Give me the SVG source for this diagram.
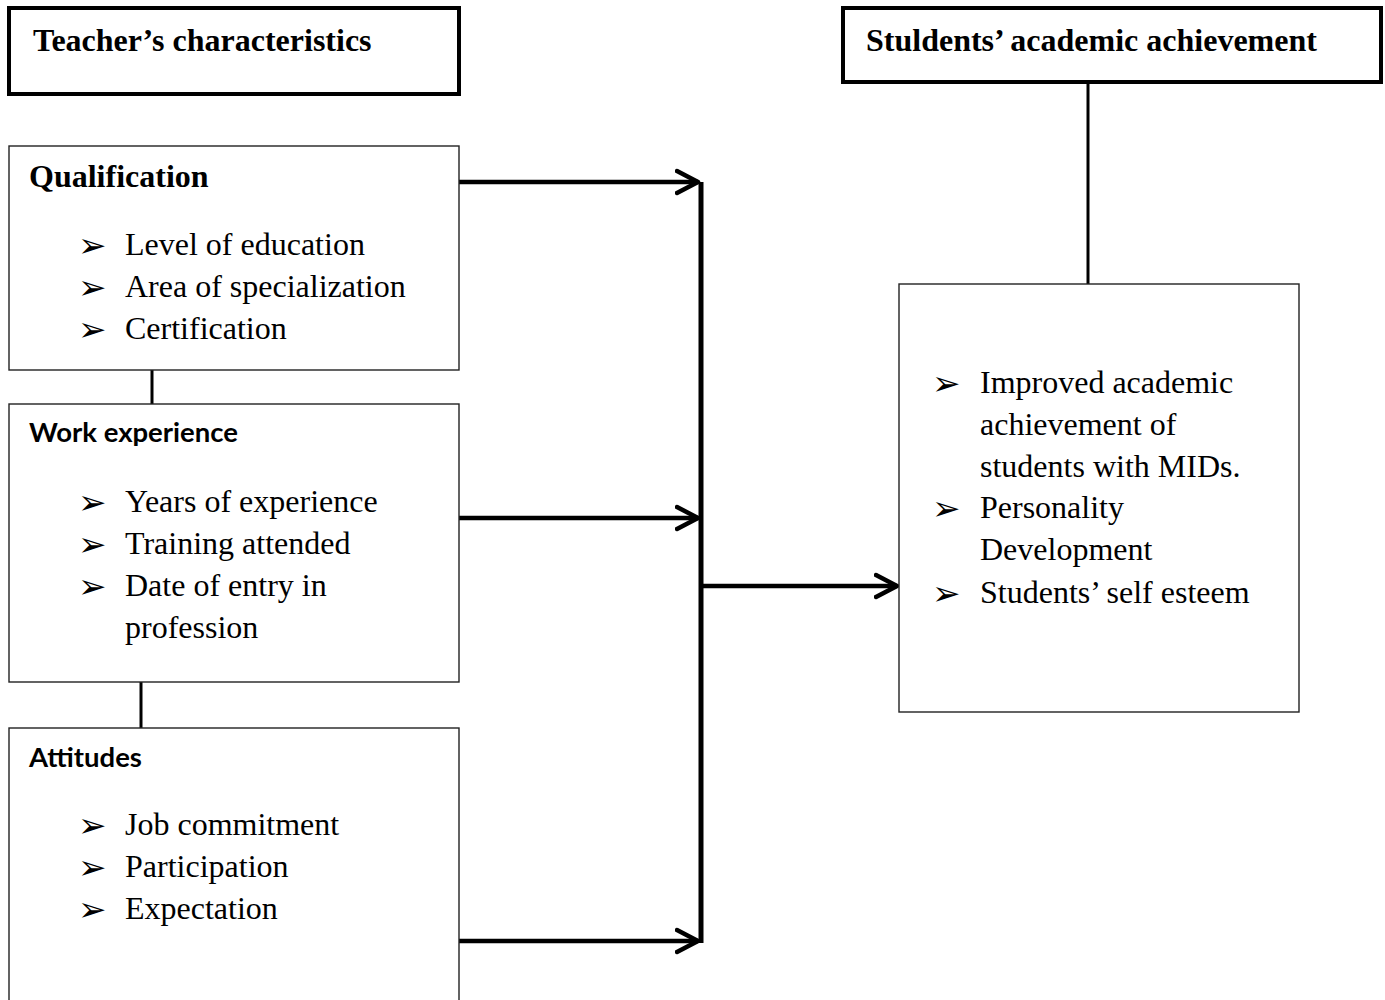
<svg xmlns="http://www.w3.org/2000/svg" width="1385" height="1000" viewBox="0 0 1385 1000">
<style>
.hdr{fill:#fff;stroke:#000;stroke-width:4}
.box{fill:#fff;stroke:#222;stroke-width:1.4}
.ttl{font-family:"Liberation Serif","Times New Roman",serif;font-weight:bold;font-size:32px;fill:#000}
.sub{font-family:Lato,"Liberation Sans",sans-serif;font-weight:bold;font-size:27.5px;fill:#000}
.itm{font-family:"Liberation Serif","Times New Roman",serif;font-size:32px;fill:#000}
.bul{font-family:"DejaVu Sans",sans-serif;font-size:34px;fill:#000}
.con{stroke:#000;fill:none}
</style>
<defs>
<marker id="chev" viewBox="0 0 26 28" refX="23" refY="14" markerWidth="26" markerHeight="28" markerUnits="userSpaceOnUse" orient="auto">
<polyline points="2,3 23,14 2,25" fill="none" stroke="#000" stroke-width="4.5" stroke-linecap="round" stroke-linejoin="round"/>
</marker>
</defs>
<rect width="1385" height="1000" fill="#fff"/>

<g id="connectors">
<line class="con" x1="152" y1="370" x2="152" y2="404" stroke-width="3"/>
<line class="con" x1="141" y1="682" x2="141" y2="728" stroke-width="3"/>
<line class="con" x1="1088" y1="82" x2="1088" y2="284" stroke-width="3"/>
<line class="con" x1="701" y1="182" x2="701" y2="943" stroke-width="5"/>
<line class="con" x1="459" y1="182" x2="698" y2="182" stroke-width="4.5" marker-end="url(#chev)"/>
<line class="con" x1="459" y1="518" x2="698" y2="518" stroke-width="4.5" marker-end="url(#chev)"/>
<line class="con" x1="459" y1="941" x2="698" y2="941" stroke-width="4.5" marker-end="url(#chev)"/>
<line class="con" x1="701" y1="586" x2="897" y2="586" stroke-width="4.5" marker-end="url(#chev)"/>
</g>

<g id="teacher-characteristics">
<rect class="hdr" x="9" y="8" width="450" height="86"/>
<text class="ttl" x="33" y="51">Teacher’s characteristics</text>
</g>

<g id="students-achievement">
<rect class="hdr" x="843" y="8" width="538" height="74"/>
<text class="ttl" x="866" y="51">Stuldents’ academic achievement</text>
</g>

<g id="qualification">
<rect class="box" x="9" y="146" width="450" height="224"/>
<text class="ttl" x="29" y="187">Qualification</text>
<text class="bul" x="78" y="257">➢</text><text class="itm" x="125" y="255">Level of education</text>
<text class="bul" x="78" y="299">➢</text><text class="itm" x="125" y="297">Area of specialization</text>
<text class="bul" x="78" y="341">➢</text><text class="itm" x="125" y="339">Certification</text>
</g>

<g id="work-experience">
<rect class="box" x="9" y="404" width="450" height="278"/>
<text class="sub" x="29" y="442">Work experience</text>
<text class="bul" x="78" y="514">➢</text><text class="itm" x="125" y="512">Years of experience</text>
<text class="bul" x="78" y="556">➢</text><text class="itm" x="125" y="554">Training attended</text>
<text class="bul" x="78" y="598">➢</text><text class="itm" x="125" y="596">Date of entry in</text>
<text class="itm" x="125" y="638">profession</text>
</g>

<g id="attitudes">
<rect class="box" x="9" y="728" width="450" height="290"/>
<text class="sub" x="29" y="767">Attitudes</text>
<text class="bul" x="78" y="837">➢</text><text class="itm" x="125" y="835">Job commitment</text>
<text class="bul" x="78" y="879">➢</text><text class="itm" x="125" y="877">Participation</text>
<text class="bul" x="78" y="921">➢</text><text class="itm" x="125" y="919">Expectation</text>
</g>

<g id="outcomes">
<rect class="box" x="899" y="284" width="400" height="428"/>
<text class="bul" x="932" y="395">➢</text><text class="itm" x="980" y="393">Improved academic</text>
<text class="itm" x="980" y="435">achievement of</text>
<text class="itm" x="980" y="477">students with MIDs.</text>
<text class="bul" x="932" y="520">➢</text><text class="itm" x="980" y="518">Personality</text>
<text class="itm" x="980" y="560">Development</text>
<text class="bul" x="932" y="605">➢</text><text class="itm" x="980" y="603">Students’ self esteem</text>
</g>
</svg>
